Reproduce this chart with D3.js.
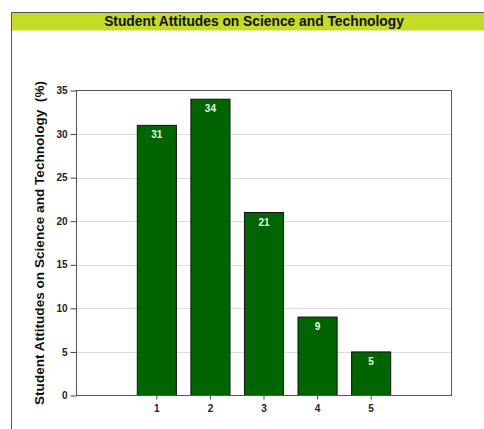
<!DOCTYPE html>
<html><head><meta charset="utf-8">
<script src="https://cdn.jsdelivr.net/npm/d3@7"></script>
<style>body{margin:0;background:#fff;}svg{display:block;font-family:"Liberation Sans",Arial,sans-serif;}</style>
</head><body>
<svg id="c" width="484" height="429"></svg>
<script>
const title = "Student Attitudes on Science and Technology";
const yLabel = "Student Attitudes on Science and Technology  (%)";
const categories = ["1", "2", "3", "4", "5"];
const values = [31, 34, 21, 9, 5];
const yTicks = [0, 5, 10, 15, 20, 25, 30, 35];

const svg = d3.select("#c");
const W = 484, H = 429;
const frameL = 11.5, frameT = 12.5;
const m = {l: 76.5, t: 90.5, r: 451.5, b: 395.5};

// frame & title band
svg.append("rect").attr("x", frameL).attr("y", frameT).attr("width", 520).attr("height", 18)
  .attr("fill", "#c6dc24");
svg.append("line").attr("x1", frameL).attr("x2", W).attr("y1", frameT).attr("y2", frameT)
  .attr("stroke", "#555").attr("stroke-width", 1);
svg.append("line").attr("x1", frameL).attr("x2", frameL).attr("y1", frameT).attr("y2", H)
  .attr("stroke", "#555").attr("stroke-width", 1);
svg.append("text").attr("x", 254).attr("y", 26).attr("text-anchor", "middle")
  .attr("font-size", 13.8).attr("font-weight", "bold").attr("fill", "#111").text(title);

const slots = ["", ...categories, " "];
const x = d3.scaleBand().domain(slots).range([m.l, m.r]).paddingInner(0.27).paddingOuter(0.135);
const y = d3.scaleLinear().domain([0, 35]).range([m.b, m.t]);

// gridlines
svg.append("g").selectAll("line").data(yTicks.filter(t => t > 0 && t < 35)).join("line")
  .attr("x1", m.l).attr("x2", m.r).attr("y1", d => Math.round(y(d)) + 0.5).attr("y2", d => Math.round(y(d)) + 0.5)
  .attr("stroke", "#dcdcdc").attr("stroke-width", 1);

// bars
const data = categories.map((c, i) => ({c, v: values[i]}));
svg.append("g").selectAll("rect").data(data).join("rect")
  .attr("x", d => x(d.c)).attr("y", d => y(d.v)).attr("width", x.bandwidth()).attr("height", d => y(0) - y(d.v))
  .attr("fill", "#006400").attr("stroke", "#111").attr("stroke-width", 1);
svg.append("g").selectAll("text").data(data).join("text")
  .attr("x", d => x(d.c) + x.bandwidth() / 2).attr("y", d => y(d.v) + 13)
  .attr("text-anchor", "middle").attr("font-size", 10).attr("font-weight", "bold")
  .attr("fill", "#e6f5e6").text(d => d.v);

// plot border
svg.append("rect").attr("x", m.l).attr("y", m.t).attr("width", m.r - m.l).attr("height", m.b - m.t)
  .attr("fill", "none").attr("stroke", "#555").attr("stroke-width", 1);

// axes
const yAxis = svg.append("g").attr("transform", `translate(${m.l},0)`)
  .call(d3.axisLeft(y).tickValues(yTicks).tickSize(6).tickPadding(3));
yAxis.select(".domain").remove();
const xAxis = svg.append("g").attr("transform", `translate(0,${m.b})`)
  .call(d3.axisBottom(x).tickValues(categories).tickSize(4).tickPadding(5));
xAxis.select(".domain").remove();
svg.selectAll(".tick text").attr("font-size", 10).attr("font-weight", "bold").attr("fill", "#222")
  .attr("font-family", "Liberation Sans, Arial, sans-serif");
svg.selectAll(".tick line").attr("stroke", "#444");

svg.append("text").attr("transform", `translate(44,${(m.t + m.b) / 2}) rotate(-90)`)
  .attr("text-anchor", "middle").attr("font-size", 13.6).attr("font-weight", "bold").attr("fill", "#111")
  .style("white-space", "pre")
  .text(yLabel);
</script>
</body></html>
